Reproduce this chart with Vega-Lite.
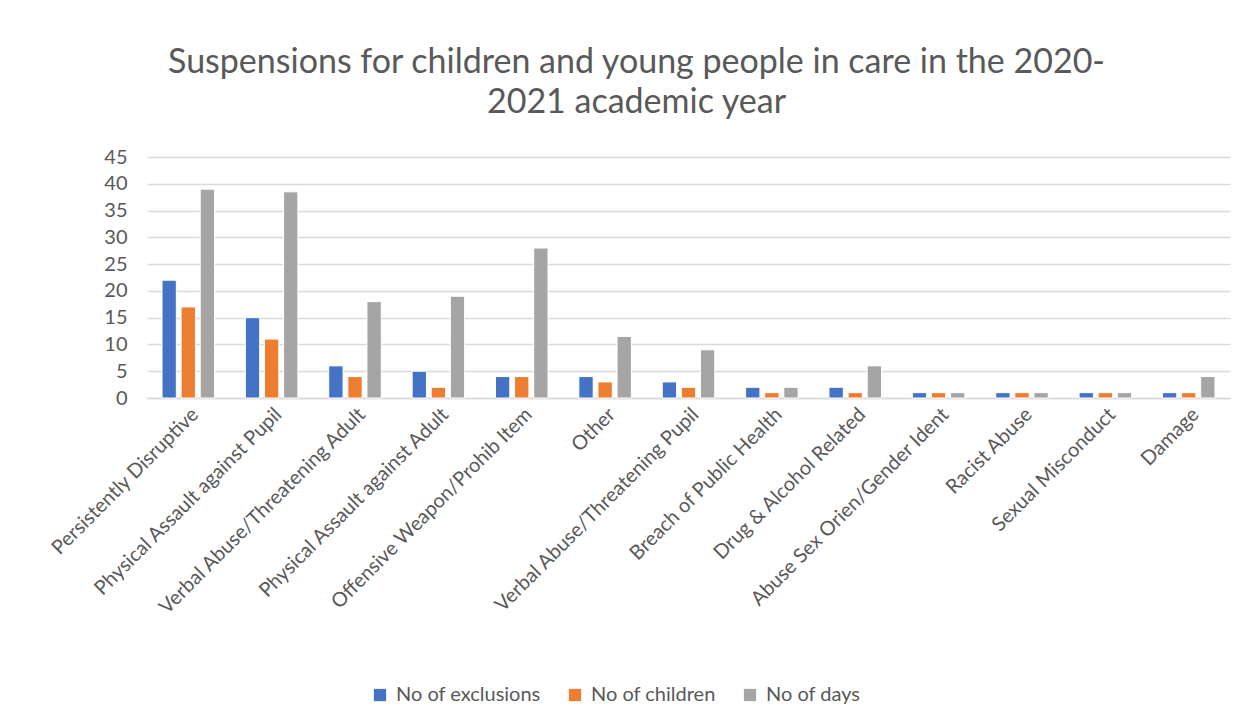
{
  "$schema": "https://vega.github.io/schema/vega-lite/v6.json",
  "autosize": {"type": "none"},
  "width": 1083,
  "height": 241,
  "padding": {"left": 147, "top": 157, "right": 19, "bottom": 328},
  "background": "white",
  "title": {
    "text": ["Suspensions for children and young people in care in the 2020-", "2021 academic year"],
    "font": "Lato",
    "fontSize": 34,
    "fontWeight": "normal",
    "color": "#595959",
    "lineHeight": 40,
    "anchor": "middle",
    "dx": -52,
    "offset": 27
  },
  "data": {
    "values": [
      {"category": "Persistently Disruptive", "series": "No of exclusions", "value": 22},
      {"category": "Persistently Disruptive", "series": "No of children", "value": 17},
      {"category": "Persistently Disruptive", "series": "No of days", "value": 39},
      {"category": "Physical Assault against Pupil", "series": "No of exclusions", "value": 15},
      {"category": "Physical Assault against Pupil", "series": "No of children", "value": 11},
      {"category": "Physical Assault against Pupil", "series": "No of days", "value": 38.5},
      {"category": "Verbal Abuse/Threatening Adult", "series": "No of exclusions", "value": 6},
      {"category": "Verbal Abuse/Threatening Adult", "series": "No of children", "value": 4},
      {"category": "Verbal Abuse/Threatening Adult", "series": "No of days", "value": 18},
      {"category": "Physical Assault against Adult", "series": "No of exclusions", "value": 5},
      {"category": "Physical Assault against Adult", "series": "No of children", "value": 2},
      {"category": "Physical Assault against Adult", "series": "No of days", "value": 19},
      {"category": "Offensive Weapon/Prohib Item", "series": "No of exclusions", "value": 4},
      {"category": "Offensive Weapon/Prohib Item", "series": "No of children", "value": 4},
      {"category": "Offensive Weapon/Prohib Item", "series": "No of days", "value": 28},
      {"category": "Other", "series": "No of exclusions", "value": 4},
      {"category": "Other", "series": "No of children", "value": 3},
      {"category": "Other", "series": "No of days", "value": 11.5},
      {"category": "Verbal Abuse/Threatening Pupil", "series": "No of exclusions", "value": 3},
      {"category": "Verbal Abuse/Threatening Pupil", "series": "No of children", "value": 2},
      {"category": "Verbal Abuse/Threatening Pupil", "series": "No of days", "value": 9},
      {"category": "Breach of Public Health", "series": "No of exclusions", "value": 2},
      {"category": "Breach of Public Health", "series": "No of children", "value": 1},
      {"category": "Breach of Public Health", "series": "No of days", "value": 2},
      {"category": "Drug & Alcohol Related", "series": "No of exclusions", "value": 2},
      {"category": "Drug & Alcohol Related", "series": "No of children", "value": 1},
      {"category": "Drug & Alcohol Related", "series": "No of days", "value": 6},
      {"category": "Abuse Sex Orien/Gender Ident", "series": "No of exclusions", "value": 1},
      {"category": "Abuse Sex Orien/Gender Ident", "series": "No of children", "value": 1},
      {"category": "Abuse Sex Orien/Gender Ident", "series": "No of days", "value": 1},
      {"category": "Racist Abuse", "series": "No of exclusions", "value": 1},
      {"category": "Racist Abuse", "series": "No of children", "value": 1},
      {"category": "Racist Abuse", "series": "No of days", "value": 1},
      {"category": "Sexual Misconduct", "series": "No of exclusions", "value": 1},
      {"category": "Sexual Misconduct", "series": "No of children", "value": 1},
      {"category": "Sexual Misconduct", "series": "No of days", "value": 1},
      {"category": "Damage", "series": "No of exclusions", "value": 1},
      {"category": "Damage", "series": "No of children", "value": 1},
      {"category": "Damage", "series": "No of days", "value": 4}
    ]
  },
  "mark": {"type": "bar", "stroke": "white", "strokeWidth": 1},
  "encoding": {
    "x": {
      "field": "category",
      "type": "nominal",
      "sort": null,
      "scale": {"paddingInner": 0.37, "paddingOuter": 0.18},
      "axis": {
        "title": null,
        "labelAngle": -45,
        "labelFont": "Lato",
        "labelFontSize": 20,
        "labelColor": "#595959",
        "labelPadding": 6,
        "ticks": false,
        "domainColor": "#d9d9d9",
        "domainWidth": 1.5,
        "labelLimit": 400
      }
    },
    "xOffset": {
      "field": "series",
      "type": "nominal",
      "sort": ["No of exclusions", "No of children", "No of days"],
      "scale": {"paddingInner": 0.25}
    },
    "y": {
      "field": "value",
      "type": "quantitative",
      "scale": {"domain": [0, 45]},
      "axis": {
        "title": null,
        "values": [0, 5, 10, 15, 20, 25, 30, 35, 40, 45],
        "labelFont": "Lato",
        "labelFontSize": 20,
        "labelColor": "#595959",
        "labelPadding": 20,
        "ticks": false,
        "domain": false,
        "gridColor": "#d9d9d9",
        "gridWidth": 1.5
      }
    },
    "color": {
      "field": "series",
      "type": "nominal",
      "sort": ["No of exclusions", "No of children", "No of days"],
      "scale": {
        "domain": ["No of exclusions", "No of children", "No of days"],
        "range": ["#4472c4", "#ed7d31", "#a5a5a5"]
      },
      "legend": {
        "title": null,
        "orient": "none",
        "legendX": 223,
        "legendY": 528,
        "direction": "horizontal",
        "symbolType": "square",
        "symbolSize": 150,
        "symbolStrokeWidth": 0,
        "labelFont": "Lato",
        "labelFontSize": 20,
        "labelColor": "#595959",
        "labelOffset": 6,
        "columnPadding": 24
      }
    }
  },
  "config": {
    "view": {"stroke": null}
  }
}
